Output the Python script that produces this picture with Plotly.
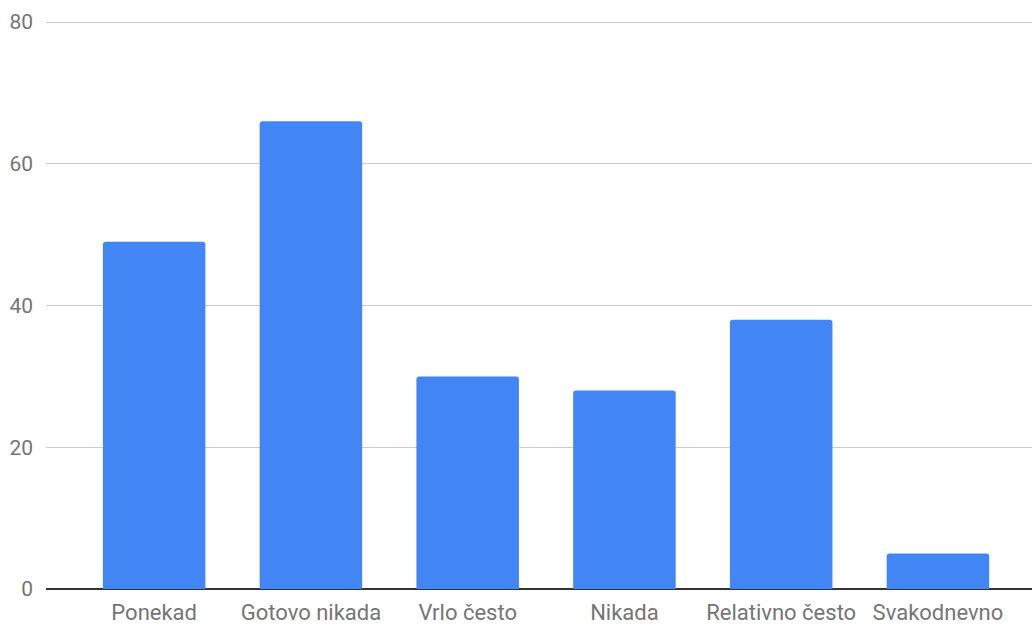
import plotly.graph_objects as go

categories = ["Ponekad", "Gotovo nikada", "Vrlo često", "Nikada", "Relativno često", "Svakodnevno"]
values = [49, 66, 30, 28, 38, 5]
y_ticks = [0, 20, 40, 60, 80]

fig = go.Figure(go.Bar(x=categories, y=values, marker=dict(color="#4285F4", line=dict(width=0))))

fig.update_layout(
    width=1032, height=625,
    margin=dict(l=46, r=0, t=20, b=36),
    paper_bgcolor="white", plot_bgcolor="white",
    bargap=0.346,
    barcornerradius=3,
    font=dict(family="Roboto", size=20, color="#757575"),
    showlegend=False,
)
fig.update_xaxes(type="category", range=[-0.69, 5.6], showgrid=False, ticks="",
                 showline=False, automargin=False, ticklabelstandoff=8,
                 tickfont=dict(size=22, color="#757575"))
fig.update_yaxes(range=[0, 80.3], tickvals=y_ticks, showgrid=True, gridcolor="#cccccc", gridwidth=1,
                 zeroline=True, zerolinecolor="#333333", zerolinewidth=1.5, ticks="",
                 automargin=False, ticklabelstandoff=12, tickfont=dict(size=21, color="#757575"))

fig.write_html("out.html", config={"displayModeBar": False},
               post_script="document.body.style.margin='0';")
